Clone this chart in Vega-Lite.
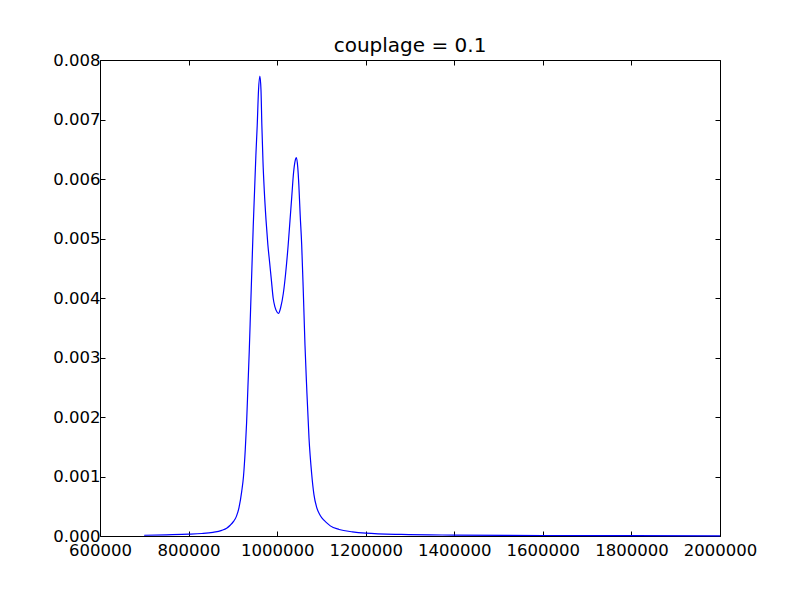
{
  "$schema": "https://vega.github.io/schema/vega-lite/v6.json",
  "width": 620,
  "height": 476,
  "autosize": {"type": "none"},
  "padding": {"left": 100, "top": 60, "right": 80, "bottom": 59},
  "background": "white",
  "title": {"text": "couplage = 0.1", "font": "DejaVu Sans", "fontSize": 20, "fontWeight": "normal", "color": "black", "anchor": "middle", "baseline": "alphabetic", "offset": -20},
  "config": {
    "view": {"stroke": "black", "strokeWidth": 1},
    "axis": {"domain": false, "grid": false, "tickColor": "black", "tickSize": -5, "tickWidth": 1, "labelFont": "DejaVu Sans", "labelFontSize": 16.5, "labelColor": "black", "labelPadding": 5, "labelOverlap": false, "labelFlush": false, "labelBound": false, "title": null}
  },
  "data": {"values": [
    {"x": 700000, "y": 0.000012},
    {"x": 750000, "y": 0.00002},
    {"x": 800000, "y": 0.00003},
    {"x": 830000, "y": 0.000042},
    {"x": 855000, "y": 0.000062},
    {"x": 875000, "y": 0.000095},
    {"x": 886000, "y": 0.00013},
    {"x": 894000, "y": 0.00018},
    {"x": 902000, "y": 0.00025},
    {"x": 908000, "y": 0.00033},
    {"x": 914000, "y": 0.00048},
    {"x": 920000, "y": 0.00075},
    {"x": 924000, "y": 0.001},
    {"x": 928000, "y": 0.00145},
    {"x": 931000, "y": 0.0019},
    {"x": 934000, "y": 0.0025},
    {"x": 937000, "y": 0.0031},
    {"x": 940000, "y": 0.0038},
    {"x": 943000, "y": 0.0045},
    {"x": 946000, "y": 0.0052},
    {"x": 949000, "y": 0.0058},
    {"x": 952000, "y": 0.0064},
    {"x": 955000, "y": 0.0069},
    {"x": 958000, "y": 0.0075},
    {"x": 961000, "y": 0.00773},
    {"x": 963500, "y": 0.0075},
    {"x": 965500, "y": 0.0069},
    {"x": 968000, "y": 0.0063},
    {"x": 971000, "y": 0.0058},
    {"x": 975000, "y": 0.0053},
    {"x": 979000, "y": 0.0049},
    {"x": 983000, "y": 0.0046},
    {"x": 987000, "y": 0.0043},
    {"x": 991000, "y": 0.0040},
    {"x": 995000, "y": 0.00385},
    {"x": 1000000, "y": 0.00376},
    {"x": 1003000, "y": 0.00374},
    {"x": 1008000, "y": 0.00384},
    {"x": 1014000, "y": 0.00408},
    {"x": 1019000, "y": 0.0044},
    {"x": 1025000, "y": 0.0049},
    {"x": 1029000, "y": 0.0053},
    {"x": 1033000, "y": 0.0057},
    {"x": 1037000, "y": 0.0061},
    {"x": 1040500, "y": 0.0063},
    {"x": 1043500, "y": 0.00636},
    {"x": 1046500, "y": 0.0062},
    {"x": 1049000, "y": 0.0059},
    {"x": 1052000, "y": 0.0054},
    {"x": 1055400, "y": 0.0049},
    {"x": 1059100, "y": 0.0041},
    {"x": 1062900, "y": 0.0032},
    {"x": 1066700, "y": 0.0025},
    {"x": 1071900, "y": 0.00165},
    {"x": 1077900, "y": 0.00105},
    {"x": 1083000, "y": 0.0007},
    {"x": 1089300, "y": 0.00048},
    {"x": 1097000, "y": 0.00035},
    {"x": 1105000, "y": 0.00027},
    {"x": 1112000, "y": 0.00022},
    {"x": 1120000, "y": 0.00017},
    {"x": 1140000, "y": 0.00011},
    {"x": 1170000, "y": 0.00007},
    {"x": 1200000, "y": 0.000048},
    {"x": 1280000, "y": 0.000026},
    {"x": 1400000, "y": 0.000015},
    {"x": 1600000, "y": 0.000008},
    {"x": 1800000, "y": 0.000005},
    {"x": 2000000, "y": 0.000003}
  ]},
  "layer": [
    {
      "mark": {"type": "line", "color": "#0000ff", "strokeWidth": 1.2, "interpolate": "monotone"},
      "encoding": {
        "x": {"field": "x", "type": "quantitative", "scale": {"domain": [600000, 2000000], "nice": false, "zero": false},
              "axis": {"orient": "bottom", "labelPadding": 11, "values": [600000, 800000, 1000000, 1200000, 1400000, 1600000, 1800000, 2000000], "format": "d"}},
        "y": {"field": "y", "type": "quantitative", "scale": {"domain": [0, 0.008], "nice": false},
              "axis": {"orient": "left", "values": [0, 0.001, 0.002, 0.003, 0.004, 0.005, 0.006, 0.007, 0.008], "format": ".3f"}}
      }
    },
    {
      "mark": {"type": "line", "strokeOpacity": 0},
      "encoding": {
        "x": {"field": "x", "type": "quantitative", "scale": {"domain": [600000, 2000000], "nice": false, "zero": false},
              "axis": {"orient": "top", "values": [600000, 800000, 1000000, 1200000, 1400000, 1600000, 1800000, 2000000], "labels": false}},
        "y": {"field": "y", "type": "quantitative", "scale": {"domain": [0, 0.008], "nice": false},
              "axis": {"orient": "right", "values": [0, 0.001, 0.002, 0.003, 0.004, 0.005, 0.006, 0.007, 0.008], "labels": false}}
      }
    }
  ],
  "resolve": {"axis": {"x": "independent", "y": "independent"}}
}
